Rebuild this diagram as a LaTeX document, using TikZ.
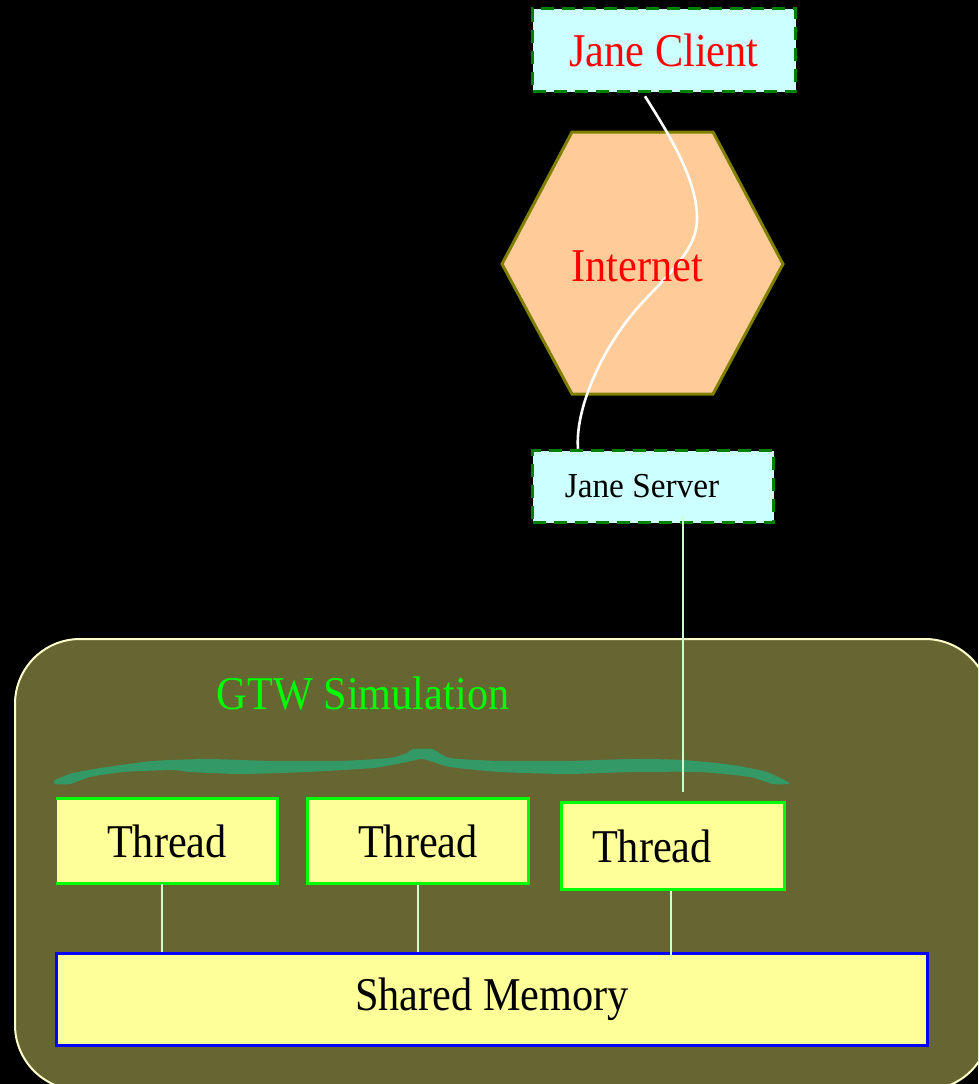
\documentclass[tikz,border=0pt]{standalone}
\usepackage{fontspec}
\setmainfont{Liberation Serif}
\usepackage{graphicx}
\usetikzlibrary{calc}
\definecolor{cfill}{HTML}{CCFFFF}
\definecolor{dgreen}{HTML}{008000}
\definecolor{peach}{HTML}{FFCC99}
\definecolor{olivel}{HTML}{808000}
\definecolor{panel}{HTML}{666633}
\definecolor{panelline}{HTML}{FFFFCC}
\definecolor{bracec}{HTML}{339966}
\definecolor{pale}{HTML}{CCFFCC}
\definecolor{yel}{HTML}{FFFF99}
\definecolor{brgreen}{HTML}{00FF00}
\newcommand\narrowtxt[1]{\scalebox{0.9}[1]{#1}}
\begin{document}
\begin{tikzpicture}[x=1pt,y=-1pt,
  bigfont/.style={font=\fontsize{47}{50}\selectfont},
  janebox/.style={draw=dgreen, line width=3.5pt, dash pattern=on 13pt off 8pt, fill=cfill, inner sep=0pt},
  threadbox/.style={fill=yel, inner sep=0pt, minimum width=221pt, minimum height=85pt, bigfont},
  threadline/.style={draw=brgreen, line width=3pt},
  link/.style={draw=pale, line width=2pt},
  wire/.style={draw=white, line width=2.6pt},
]
\useasboundingbox (0,0) rectangle (978,1084);
\clip (0,0) rectangle (978,1084);
\fill[black] (0,0) rectangle (978,1084);

% Jane Client
\node[janebox, minimum width=263pt, minimum height=83pt, bigfont, text=red] (client) at (664,50) {\narrowtxt{Jane Client}};

% Internet hexagon
\path[fill=peach, draw=olivel, line width=3pt] (502,264) -- (572,132) -- (713,132) -- (783,264) -- (713,394) -- (572,394) -- cycle;

% Jane Server
\node[janebox, minimum width=241pt, minimum height=72pt, font=\fontsize{35}{38}\selectfont] (server) at (653,486.5) {\scalebox{0.95}[1]{Jane Server}\kern22pt};

% wire client -> server
\draw[wire] ([xshift=-19pt,yshift=-3pt]client.south) .. controls (668,133) and (698,180) .. (697,220) .. controls (697,250) and (665,278) .. (640,305) .. controls (600,350) and (575,410) .. ([xshift=-75pt]server.north);

\node[bigfont, text=red] (internet) at (637,266) {\narrowtxt{Internet}};

% GTW panel
\draw[panelline, fill=panel, line width=2pt, rounded corners=65pt] (15,639) rectangle (990,1090);
\node[bigfont, text=brgreen] (gtw) at (363,694) {\narrowtxt{GTW Simulation}};

% brace (filled shape)
\fill[bracec] plot[smooth cycle, tension=0.35] coordinates {
 (55,780) (73,773) (107,767) (153,761) (207,759) (273,761) (340,761) (390,758) (407,753) (413,749)
 (432,749) (450,758) (500,761) (567,761) (633,759) (683,760) (733,765) (767,772) (788,782)
 (788,784) (773,784) (750,777) (700,772) (633,772) (567,774) (500,772) (450,767) (423,759)
 (407,762) (373,768) (307,772) (240,774) (190,772) (173,770) (123,772) (90,777) (70,784) (55,784)};

% server -> thread 3
\coordinate (t3in) at (683,792);
\draw[link] ([xshift=30pt,yshift=8pt]server.south) -- (t3in);

% threads
\node[threadbox] (t1) at (167,841) {\narrowtxt{Thread}};
\draw[threadline] (t1.north west) -- (t1.north east) -- (t1.south east) -- (t1.south west);
\node[threadbox, draw=brgreen, line width=3pt] (t2) at (418,841) {\narrowtxt{Thread}};
\node[threadbox, draw=brgreen, line width=3pt, minimum width=223pt, minimum height=87pt] (t3) at (673,846) {\narrowtxt{Thread}\kern42pt};

% shared memory
\node[fill=yel, draw=blue, line width=3pt, minimum width=871pt, minimum height=92pt, inner sep=0pt, bigfont] (mem) at (492,999.5) {\narrowtxt{Shared Memory}};

% links thread -> memory
\draw[link] ([xshift=-5pt]t1.south) -- ([xshift=-5pt]t1.south |- mem.north);
\draw[link] (t2.south) -- (t2.south |- mem.north);
\draw[link] ([xshift=-2pt]t3.south) -- ([xshift=-2pt,yshift=-8pt]t3.south |- mem.north);
\end{tikzpicture}
\end{document}
